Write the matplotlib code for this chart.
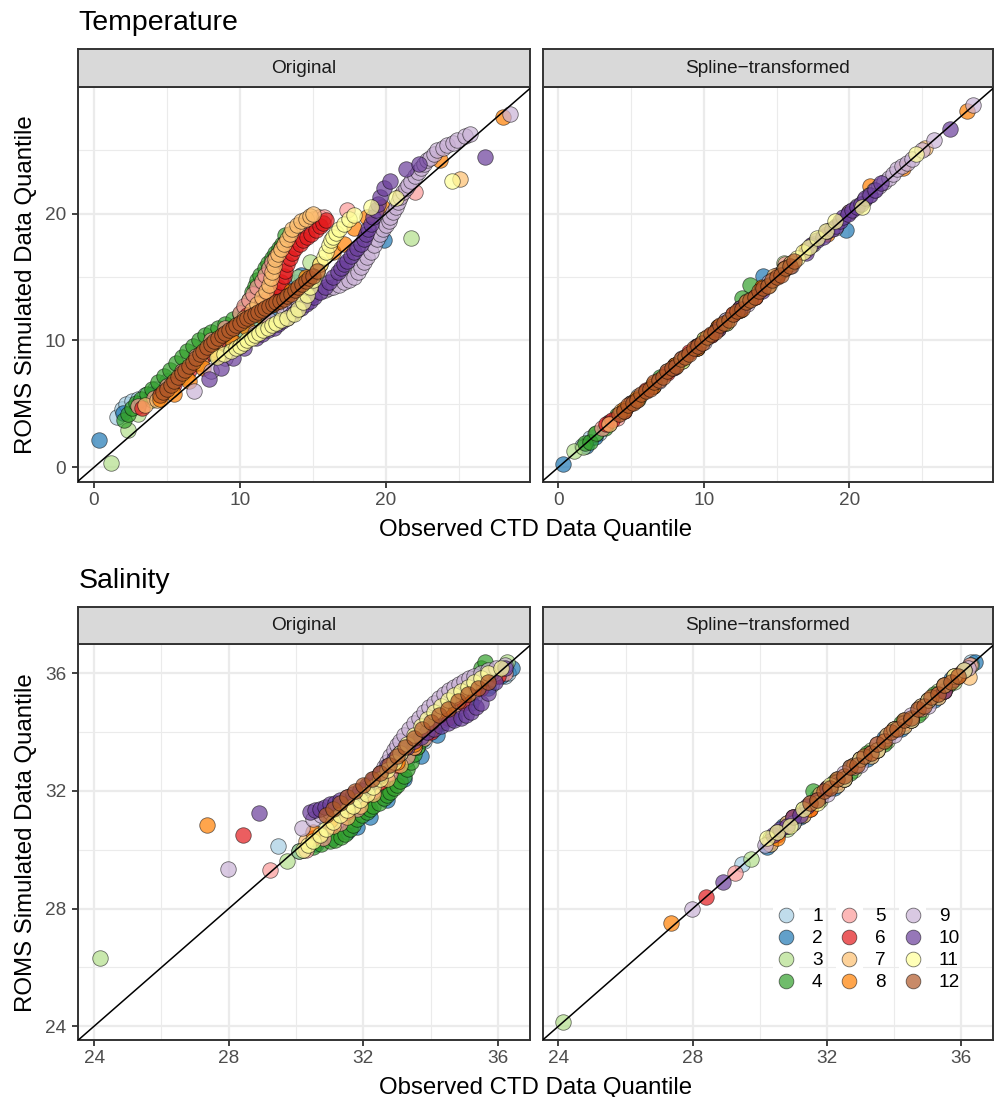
import matplotlib
matplotlib.use("Agg")
import matplotlib.pyplot as plt
from matplotlib.colors import to_rgba
from matplotlib.lines import Line2D
from matplotlib.patches import Rectangle
from matplotlib.legend_handler import HandlerBase

plt.rcParams["font.family"] = ["Liberation Sans", "DejaVu Sans"]

months = [str(m) for m in range(1, 13)]
month_colors = ["#A6CEE3", "#1F78B4", "#B2DF8A", "#33A02C", "#FB9A99", "#E31A1C",
                "#FDBF6F", "#FF7F00", "#CAB2D6", "#6A3D9A", "#FFFF99", "#B15928"]
facet_names = ["Original", "Spline\u2212transformed"]

# Temperature, original quantiles: (observed, simulated)
t_orig_01 = [(1.6, 4.0), (1.9, 4.6), (2.2, 5.0), (2.6, 5.2), (3.0, 5.4), (3.5, 5.7), (4.2, 6.2), (5.0, 6.8),
             (6.0, 7.6), (7.0, 8.5), (8.0, 9.3), (9.0, 10.0), (10.0, 10.7), (11.0, 11.3)]
t_orig_02 = [(0.34, 2.16), (2.0, 4.3), (3.0, 5.0), (4.0, 5.8), (5.0, 6.5), (6.0, 7.3), (7.0, 8.2), (8.0, 9.0),
             (9.0, 9.8), (10.0, 10.6), (11.0, 11.4), (12.0, 12.4), (13.0, 13.6), (13.8, 14.6), (14.2, 15.2),
             (19.9, 17.9)]
t_orig_03 = [(1.14, 0.32), (2.3, 2.9), (3.0, 4.2), (4.0, 5.3), (5.0, 6.3), (6.0, 7.2), (7.0, 8.2), (8.0, 9.1),
             (9.0, 10.0), (10.0, 10.9), (11.0, 11.8), (12.0, 12.8), (13.0, 13.9), (14.0, 15.0), (14.8, 16.2),
             (21.7, 18.1)]
t_orig_04 = [(2.05, 3.7), (2.3, 4.2), (2.6, 4.7), (2.9, 5.1), (3.2, 5.4), (3.6, 5.8), (4.0, 6.2), (4.4, 6.7),
             (4.8, 7.2), (5.2, 7.7), (5.6, 8.2), (6.0, 8.7), (6.4, 9.2), (6.8, 9.6), (7.2, 10.0), (7.6, 10.4),
             (8.0, 10.7), (8.5, 11.0), (9.0, 11.3), (9.5, 11.7), (10.0, 12.1), (10.3, 12.6), (10.6, 13.2),
             (10.8, 13.8), (11.0, 14.3), (11.2, 14.8), (11.4, 15.2), (11.7, 15.7), (11.9, 16.1), (12.2, 16.5),
             (12.4, 16.9), (12.7, 17.3), (12.9, 17.6), (13.1, 18.3)]
t_orig_05 = [(3.0, 4.8), (4.1, 5.5), (5.0, 6.4), (6.0, 7.6), (7.0, 8.8), (8.0, 10.0), (9.0, 11.0), (10.0, 12.2),
             (10.3, 12.7), (10.6, 13.2), (10.9, 13.7), (11.2, 14.2), (11.5, 14.7), (11.7, 15.2), (12.0, 15.7),
             (12.2, 16.2), (12.5, 16.7), (12.8, 17.2), (13.1, 17.7), (13.5, 18.2), (13.9, 18.7), (14.3, 19.1),
             (14.7, 19.4), (15.0, 19.6), (15.4, 19.7), (15.75, 19.7), (17.35, 20.3), (22.0, 21.7)]
t_orig_06 = [(3.3, 4.7), (4.5, 5.6), (5.5, 6.6), (6.5, 7.7), (7.5, 8.8), (8.5, 9.9), (9.5, 11.0), (10.5, 12.0),
             (11.5, 13.0), (12.0, 13.5), (12.3, 13.8), (12.6, 14.2), (12.8, 14.6), (13.0, 15.1), (13.1, 15.5),
             (13.25, 16.0), (13.4, 16.5), (13.6, 16.9), (13.8, 17.3), (14.1, 17.6), (14.3, 17.9), (14.6, 18.2),
             (14.9, 18.4), (15.2, 18.7), (15.5, 19.0), (15.7, 19.3), (15.9, 19.5)]
t_orig_07 = [(3.5, 4.9), (4.3, 5.3), (5.3, 6.1), (6.3, 7.1), (7.3, 8.2), (8.3, 9.3), (9.3, 10.5), (10.3, 11.8),
             (10.8, 12.4), (11.2, 12.9), (11.5, 13.4), (11.8, 13.9), (12.0, 14.4), (12.1, 14.9), (12.2, 15.4),
             (12.3, 15.9), (12.4, 16.4), (12.6, 16.8), (12.8, 17.2), (13.0, 17.6), (13.2, 18.0), (13.4, 18.4),
             (13.6, 18.8), (13.9, 19.1), (14.2, 19.4), (14.5, 19.6), (14.8, 19.8), (15.0, 20.0), (25.1, 22.7)]
t_orig_08 = [(4.5, 5.4), (5.5, 5.8), (6.5, 6.8), (7.5, 7.8), (8.5, 8.8), (9.5, 9.9), (10.5, 11.0), (11.5, 11.9),
             (12.5, 12.9), (13.5, 13.9), (14.5, 15.0), (15.5, 16.0), (16.4, 17.0), (17.1, 17.6), (17.8, 18.9),
             (18.7, 19.7), (19.75, 20.5), (21.0, 21.4), (23.7, 24.2), (28.0, 27.6)]
t_orig_09 = [(6.85, 6.05), (8.0, 7.6), (9.0, 8.6), (10.0, 9.6), (11.0, 10.6), (12.0, 11.6), (13.0, 12.5),
             (13.4, 12.7), (13.7, 12.9), (14.0, 13.1), (14.4, 13.3), (14.8, 13.5), (15.1, 13.7), (15.5, 13.9),
             (15.8, 14.0), (16.1, 14.1), (16.4, 14.2), (16.8, 14.4), (17.1, 14.6), (17.5, 14.8), (17.8, 15.0),
             (18.1, 15.4), (18.3, 15.8), (18.5, 16.2), (18.7, 16.6), (19.0, 17.0), (19.2, 17.5), (19.4, 18.0),
             (19.6, 18.4), (19.8, 18.8), (20.0, 19.1), (20.2, 19.4), (20.3, 19.7), (20.5, 20.1), (20.7, 20.5),
             (20.85, 20.9), (21.0, 21.3), (21.2, 21.7), (21.4, 22.0), (21.55, 22.3), (21.7, 22.6), (22.0, 23.0),
             (22.2, 23.3), (22.4, 23.6), (22.6, 23.9), (22.8, 24.2), (23.0, 24.4), (23.3, 24.7), (23.5, 25.0),
             (23.9, 25.2), (24.2, 25.4), (24.6, 25.6), (24.9, 25.8), (25.4, 26.1), (25.8, 26.3), (28.5, 27.9)]
t_orig_10 = [(7.9, 7.0), (8.7, 7.8), (9.5, 8.6), (10.3, 9.4), (11.1, 10.2), (11.5, 10.5), (11.9, 10.8),
             (12.3, 11.0), (12.6, 11.3), (12.9, 11.5), (13.2, 11.8), (13.6, 12.1), (13.9, 12.4), (14.2, 12.6),
             (14.5, 12.9), (14.8, 13.1), (15.1, 13.4), (15.5, 13.8), (15.8, 14.2), (16.1, 14.6), (16.4, 15.0),
             (16.7, 15.4), (16.9, 15.7), (17.1, 16.0), (17.35, 16.3), (17.6, 16.7), (17.8, 17.0), (18.0, 17.3),
             (18.3, 17.6), (18.5, 18.0), (18.65, 18.4), (18.8, 18.8), (18.95, 19.2), (19.1, 19.7), (19.3, 20.3),
             (19.45, 20.8), (19.6, 21.3), (19.9, 22.0), (20.3, 22.6), (21.35, 23.55), (22.26, 23.95),
             (26.8, 24.5)]
t_orig_11 = [(8.45, 8.7), (8.9, 8.9), (9.4, 9.2), (9.7, 9.4), (10.0, 9.6), (10.3, 9.8), (10.5, 10.0),
             (10.8, 10.2), (11.0, 10.4), (11.3, 10.6), (11.6, 10.8), (11.9, 11.0), (12.2, 11.2), (12.5, 11.4),
             (12.8, 11.6), (13.2, 11.8), (13.7, 12.1), (14.0, 12.5), (14.3, 13.0), (14.6, 13.6), (14.8, 14.2),
             (15.0, 14.8), (15.3, 15.4), (15.5, 16.0), (15.75, 16.6), (15.9, 17.0), (16.1, 17.5), (16.25, 17.9),
             (16.4, 18.2), (16.6, 18.5), (16.8, 18.8), (17.1, 19.2), (17.5, 19.6), (17.8, 19.9), (18.95, 20.5),
             (20.7, 21.2), (24.5, 22.6)]
t_orig_12 = [(4.5, 5.7), (4.75, 5.95), (5.0, 6.2), (5.25, 6.5), (5.5, 6.8), (5.75, 7.1), (6.0, 7.4),
             (6.25, 7.7), (6.5, 8.0), (6.75, 8.3), (7.0, 8.6), (7.25, 8.9), (7.5, 9.2), (7.75, 9.45), (8.0, 9.7),
             (8.25, 9.95), (8.5, 10.2), (8.75, 10.4), (9.0, 10.6), (9.25, 10.8), (9.5, 11.0), (9.75, 11.2),
             (10.0, 11.4), (10.25, 11.6), (10.5, 11.8), (10.75, 11.95), (11.0, 12.1), (11.25, 12.25),
             (11.5, 12.4), (11.75, 12.55), (12.0, 12.7), (12.25, 12.85), (12.5, 13.0), (12.75, 13.15),
             (13.0, 13.3), (13.25, 13.5), (13.5, 13.7), (13.75, 13.95), (14.0, 14.2), (14.25, 14.45),
             (14.5, 14.7), (14.75, 14.9), (15.0, 15.1), (15.3, 15.5)]

# Temperature, spline-transformed quantiles
t_spl_01 = [(1.6, 1.7), (2.2, 2.3), (2.8, 2.7), (3.5, 3.6), (4.5, 4.4), (5.5, 5.6), (6.5, 6.4), (7.5, 7.6),
            (8.5, 8.5), (9.5, 9.6), (10.5, 10.4), (11.5, 11.6)]
t_spl_02 = [(0.3, 0.24), (1.9, 1.7), (2.5, 2.4), (3.5, 3.5), (5.0, 5.1), (6.5, 6.4), (8.0, 8.1), (9.5, 9.4),
            (11.0, 11.1), (12.5, 12.4), (14.1, 15.1), (19.75, 18.72)]
t_spl_03 = [(1.1, 1.28), (1.7, 1.6), (2.5, 2.6), (3.5, 3.4), (5.0, 5.1), (6.5, 6.4), (8.0, 8.1), (9.5, 9.4),
            (11.0, 11.1), (12.5, 12.6), (13.5, 13.4), (15.5, 16.1)]
t_spl_04 = [(1.8, 1.9), (2.2, 2.0), (2.6, 2.7), (3.2, 3.1), (4.0, 4.1), (5.5, 5.4), (7.0, 7.1), (8.5, 8.4),
            (10.0, 10.1), (11.5, 11.4), (12.6, 13.35), (13.2, 14.35)]
t_spl_05 = [(3.0, 3.1), (4.0, 3.9), (5.0, 5.1), (6.5, 6.4), (8.0, 8.1), (9.5, 9.4), (11.0, 11.1), (12.5, 12.4),
            (14.0, 14.1), (15.0, 15.2), (15.6, 16.0)]
t_spl_06 = [(3.28, 3.39), (3.7, 3.7), (4.5, 4.4), (6.0, 6.1), (7.5, 7.4), (9.0, 9.1), (10.5, 10.4), (12.0, 12.1),
            (13.5, 13.4), (15.0, 15.1), (15.9, 16.0)]
t_spl_07 = [(3.5, 3.4), (4.3, 4.4), (5.3, 5.2), (6.5, 6.6), (8.0, 7.9), (9.5, 9.6), (11.0, 10.9), (12.5, 12.6),
            (14.0, 14.1), (14.8, 15.1), (25.2, 25.2)]
t_spl_08 = [(4.5, 4.6), (5.4, 5.5), (6.5, 6.4), (8.0, 8.1), (9.5, 9.4), (11.0, 11.1), (12.5, 12.4), (14.0, 14.2),
            (15.5, 15.6), (17.0, 17.1), (18.5, 18.4), (20.0, 20.1), (21.4, 22.2), (23.7, 23.6), (28.06, 28.09)]
t_spl_09 = [(6.9, 6.8), (8.5, 8.6), (10.0, 9.9), (11.5, 11.6), (13.0, 12.9), (14.5, 14.6), (16.0, 15.9),
            (17.5, 17.6), (19.0, 18.9), (20.0, 20.1), (20.5, 20.6), (21.0, 21.1), (21.35, 21.5), (21.7, 21.9),
            (22.05, 22.2), (22.4, 22.5), (22.7, 22.8), (23.0, 23.1), (23.3, 23.5), (23.6, 23.8), (24.0, 24.0),
            (24.3, 24.3), (25.0, 25.0), (25.8, 25.8), (28.5, 28.6)]
t_spl_10 = [(7.9, 7.8), (9.5, 9.6), (11.0, 10.9), (12.5, 12.6), (14.0, 13.9), (15.5, 15.6), (17.0, 16.9),
            (17.4, 17.5), (17.8, 17.9), (18.2, 18.2), (18.5, 18.6), (18.8, 18.8), (19.1, 19.0), (19.35, 19.4),
            (19.6, 19.7), (19.9, 20.0), (20.2, 20.3), (20.5, 20.5), (20.8, 20.8), (21.1, 21.2), (21.4, 21.5),
            (21.8, 21.9), (22.2, 22.4), (26.9, 26.7)]
t_spl_11 = [(8.5, 8.4), (10.0, 10.1), (11.5, 11.4), (13.0, 13.1), (14.5, 14.4), (15.5, 15.6), (16.0, 16.1),
            (16.4, 16.5), (16.8, 17.0), (17.2, 17.4), (17.75, 18.1), (18.4, 18.6), (19.0, 19.46), (20.9, 20.5),
            (24.6, 24.7)]
t_spl_12 = [(4.2, 4.2), (4.5, 4.4), (4.8, 4.9), (5.1, 5.1), (5.4, 5.3), (5.7, 5.8), (6.0, 6.0), (6.3, 6.2),
            (6.6, 6.7), (6.9, 6.9), (7.2, 7.1), (7.5, 7.6), (7.8, 7.8), (8.1, 8.0), (8.4, 8.5), (8.7, 8.7),
            (9.0, 8.9), (9.3, 9.4), (9.6, 9.6), (9.9, 9.8), (10.2, 10.3), (10.5, 10.5), (10.8, 10.7),
            (11.1, 11.2), (11.4, 11.4), (11.7, 11.6), (12.0, 12.1), (12.3, 12.3), (12.6, 12.5), (12.9, 13.0),
            (13.2, 13.2), (13.5, 13.4), (13.8, 13.9), (14.1, 14.1), (14.4, 14.3), (14.7, 14.8), (15.0, 15.0),
            (15.3, 15.2), (15.6, 15.7), (15.9, 15.9), (16.2, 16.3)]

# Salinity, original quantiles
s_orig_01 = [(29.45, 30.14), (30.2, 30.0), (30.6, 30.3), (31.2, 30.7), (31.8, 31.3), (32.3, 31.9), (32.8, 32.5),
             (33.3, 33.1), (33.8, 33.7), (34.3, 34.3), (34.8, 34.8), (35.3, 35.2), (35.8, 35.6), (36.2, 35.9),
             (36.3, 36.0)]
s_orig_02 = [(30.1, 29.95), (30.6, 30.2), (31.1, 30.4), (31.5, 30.6), (31.8, 30.77), (32.2, 31.1), (32.7, 31.7),
             (33.2, 32.4), (33.7, 33.2), (34.2, 33.9), (34.7, 34.5), (35.2, 35.0), (35.7, 35.5), (36.1, 35.9),
             (36.43, 36.2)]
s_orig_03 = [(24.17, 26.32), (29.74, 29.63), (30.1, 29.95), (30.6, 30.3), (31.1, 30.6), (31.6, 31.0),
             (32.1, 31.5), (32.6, 32.1), (33.1, 32.8), (33.6, 33.5), (34.1, 34.2), (34.6, 34.8), (35.1, 35.3),
             (35.6, 35.8), (36.27, 36.39)]
s_orig_04 = [(30.5, 30.1), (30.75, 30.2), (31.0, 30.3), (31.15, 30.35), (31.32, 30.43), (31.45, 30.55),
             (31.6, 30.7), (31.7, 30.85), (31.8, 31.05), (31.95, 31.2), (32.1, 31.3), (32.2, 31.4), (32.3, 31.5),
             (32.45, 31.6), (32.6, 31.75), (32.7, 31.85), (32.8, 31.97), (32.9, 32.1), (33.0, 32.2),
             (33.1, 32.35), (33.2, 32.5), (33.3, 32.75), (33.4, 33.0), (33.5, 33.25), (33.6, 33.5),
             (33.75, 33.75), (33.9, 34.0), (34.1, 34.25), (34.3, 34.5), (34.5, 34.75), (34.7, 35.0),
             (34.9, 35.25), (35.1, 35.5), (35.3, 35.85), (35.5, 36.2), (35.6, 36.4)]
s_orig_05 = [(29.24, 29.32), (30.3, 30.0), (30.8, 30.4), (31.3, 30.9), (31.8, 31.4), (32.3, 32.0), (32.8, 32.6),
             (33.3, 33.2), (33.8, 33.8), (34.3, 34.4), (34.8, 34.9), (35.3, 35.4), (35.8, 35.8), (36.2, 36.0)]
s_orig_06 = [(28.41, 30.49), (30.5, 30.4), (31.0, 30.8), (31.5, 31.3), (32.0, 31.8), (32.5, 32.3), (33.0, 32.9),
             (33.5, 33.5), (34.0, 34.0), (34.5, 34.5), (35.0, 35.0), (35.5, 35.5), (36.0, 35.9)]
s_orig_07 = [(30.3, 30.3), (30.7, 30.55), (31.1, 30.8), (31.5, 31.1), (31.9, 31.5), (32.3, 31.9), (32.7, 32.4),
             (33.1, 32.9), (33.5, 33.5), (33.9, 34.1), (34.3, 34.7), (34.7, 35.2), (35.1, 35.5), (35.5, 35.8),
             (35.9, 36.0)]
s_orig_08 = [(27.36, 30.86), (30.5, 30.6), (31.0, 31.0), (31.5, 31.5), (32.0, 32.0), (32.5, 32.5), (33.0, 33.0),
             (33.5, 33.6), (34.0, 34.1), (34.5, 34.7), (35.0, 35.3), (35.4, 35.7), (35.8, 36.0)]
s_orig_09 = [(27.97, 29.34), (30.18, 30.75), (30.5, 31.06), (30.75, 31.2), (31.0, 31.3), (31.25, 31.45),
             (31.5, 31.6), (31.75, 31.8), (32.0, 32.0), (32.15, 32.15), (32.3, 32.35), (32.45, 32.55),
             (32.6, 32.8), (32.7, 33.0), (32.8, 33.2), (32.9, 33.4), (33.0, 33.55), (33.1, 33.7), (33.2, 33.9),
             (33.35, 34.1), (33.5, 34.3), (33.65, 34.5), (33.8, 34.7), (33.95, 34.85), (34.1, 35.0),
             (34.25, 35.15), (34.4, 35.3), (34.55, 35.45), (34.7, 35.55), (34.85, 35.65), (35.0, 35.75),
             (35.15, 35.85), (35.3, 35.9), (35.5, 36.0), (35.7, 36.1), (35.95, 36.2), (36.2, 36.3)]
s_orig_10 = [(28.9, 31.25), (30.4, 31.3), (30.55, 31.35), (30.7, 31.4), (30.85, 31.45), (31.0, 31.55),
             (31.15, 31.6), (31.3, 31.7), (31.5, 31.8), (31.7, 31.9), (31.9, 32.05), (32.1, 32.2), (32.3, 32.4),
             (32.5, 32.6), (32.7, 32.85), (32.9, 33.1), (33.1, 33.3), (33.3, 33.5), (33.5, 33.7), (33.7, 33.85),
             (33.9, 34.0), (34.1, 34.1), (34.3, 34.2), (34.5, 34.3), (34.7, 34.4), (34.9, 34.5), (35.05, 34.6),
             (35.2, 34.7), (35.35, 34.85), (35.5, 35.0), (35.7, 35.35), (35.9, 35.7), (36.2, 36.2)]
s_orig_11 = [(30.2, 30.0), (30.35, 30.15), (30.5, 30.3), (30.7, 30.5), (30.9, 30.7), (31.1, 30.95),
             (31.3, 31.17), (31.5, 31.35), (31.7, 31.5), (31.9, 31.7), (32.1, 31.9), (32.3, 32.15), (32.5, 32.4),
             (32.7, 32.7), (32.9, 33.0), (33.1, 33.3), (33.3, 33.6), (33.5, 33.9), (33.7, 34.2), (33.9, 34.45),
             (34.1, 34.7), (34.3, 34.9), (34.5, 35.1), (34.7, 35.25), (34.9, 35.4), (35.1, 35.55), (35.3, 35.7),
             (35.5, 35.85), (35.7, 36.0), (36.1, 36.2)]
s_orig_12 = [(30.9, 31.2), (31.1, 31.4), (31.3, 31.6), (31.5, 31.8), (31.75, 32.0), (32.0, 32.2), (32.25, 32.4),
             (32.5, 32.6), (32.75, 32.9), (33.0, 33.2), (33.25, 33.5), (33.5, 33.8), (33.75, 34.1), (34.0, 34.35),
             (34.25, 34.6), (34.5, 34.8), (34.8, 35.05), (35.1, 35.3), (35.4, 35.5), (35.7, 35.7)]

# Salinity, spline-transformed quantiles
s_spl_01 = [(29.48, 29.51), (30.3, 30.2), (30.8, 30.9), (31.3, 31.2), (31.8, 31.9), (32.3, 32.2), (32.8, 32.9),
            (33.3, 33.2), (33.8, 33.9), (34.3, 34.2), (34.8, 34.9), (35.3, 35.2), (35.8, 35.9), (36.3, 36.4)]
s_spl_02 = [(30.2, 30.1), (30.7, 30.8), (31.2, 31.1), (31.7, 31.8), (32.2, 32.1), (32.7, 32.8), (33.2, 33.1),
            (33.7, 33.8), (34.2, 34.1), (34.7, 34.8), (35.2, 35.1), (35.7, 35.8), (36.4, 36.4)]
s_spl_03 = [(24.13, 24.15), (29.75, 29.68), (30.3, 30.4), (30.8, 30.7), (31.3, 31.4), (31.8, 31.7), (32.3, 32.4),
            (32.8, 32.7), (33.3, 33.4), (33.8, 33.7), (34.3, 34.4), (34.8, 34.7), (35.3, 35.4), (35.8, 35.7),
            (36.3, 36.3)]
s_spl_04 = [(30.5, 30.6), (31.0, 30.9), (31.59, 32.0), (31.8, 31.8), (32.2, 32.3), (32.7, 32.6), (33.2, 33.3),
            (33.7, 33.6), (34.2, 34.3), (34.7, 34.6), (35.2, 35.3), (35.6, 35.6)]
s_spl_05 = [(29.26, 29.22), (30.3, 30.3), (30.8, 30.8), (31.3, 31.3), (31.8, 31.8), (32.3, 32.3), (32.8, 32.8),
            (33.3, 33.3), (33.8, 33.8), (34.3, 34.3), (34.8, 34.8), (35.3, 35.3), (35.8, 35.8), (36.25, 36.3)]
s_spl_06 = [(28.41, 28.4), (30.5, 30.5), (31.0, 31.1), (31.5, 31.4), (32.0, 32.1), (32.5, 32.4), (33.0, 33.1),
            (33.5, 33.4), (34.0, 34.1), (34.5, 34.4), (35.0, 35.1), (35.5, 35.4), (36.0, 36.0)]
s_spl_07 = [(30.3, 30.2), (30.8, 30.9), (31.3, 31.2), (31.8, 31.9), (32.3, 32.2), (32.8, 32.9), (33.3, 33.2),
            (33.8, 33.9), (34.3, 34.2), (34.8, 34.9), (35.3, 35.2), (35.8, 35.9), (36.22, 35.89)]
s_spl_08 = [(27.35, 27.5), (30.5, 30.4), (31.0, 31.1), (31.5, 31.4), (32.0, 32.1), (32.5, 32.4), (33.0, 33.1),
            (33.5, 33.4), (34.0, 34.1), (34.5, 34.4), (35.0, 35.1), (35.5, 35.4), (35.9, 35.9)]
s_spl_09 = [(27.97, 27.97), (30.15, 30.15), (30.5, 30.6), (31.0, 30.9), (31.5, 31.6), (32.0, 31.9), (32.5, 32.6),
            (33.0, 32.9), (33.5, 33.6), (34.0, 33.9), (34.5, 34.6), (35.0, 34.9), (35.5, 35.6), (36.2, 36.2)]
s_spl_10 = [(28.91, 28.92), (30.4, 30.5), (30.6, 30.7), (30.8, 30.8), (31.0, 31.1), (31.2, 31.2), (31.4, 31.5),
            (31.7, 31.7), (32.0, 32.1), (32.5, 32.4), (33.0, 33.1), (33.5, 33.4), (34.0, 34.1), (34.5, 34.4),
            (35.0, 35.1), (35.5, 35.4), (36.1, 36.1)]
s_spl_11 = [(30.2, 30.4), (30.5, 30.6), (30.9, 30.8), (31.3, 31.4), (31.7, 31.6), (32.1, 32.2), (32.5, 32.4),
            (33.0, 33.1), (33.5, 33.4), (34.0, 34.1), (34.5, 34.4), (35.0, 35.1), (35.5, 35.6), (35.8, 35.9),
            (36.1, 36.1)]
s_spl_12 = [(31.5, 31.6), (31.7, 31.7), (31.9, 32.0), (32.1, 32.1), (32.3, 32.4), (32.5, 32.5), (32.7, 32.8),
            (32.9, 32.9), (33.1, 33.2), (33.3, 33.3), (33.5, 33.6), (33.7, 33.7), (33.9, 34.0), (34.1, 34.1),
            (34.3, 34.4), (34.5, 34.5), (34.7, 34.8), (34.9, 34.9), (35.1, 35.2), (35.3, 35.3), (35.5, 35.6),
            (35.7, 35.7), (35.9, 35.9)]

temp_orig = [t_orig_01, t_orig_02, t_orig_03, t_orig_04, t_orig_05, t_orig_06,
             t_orig_07, t_orig_08, t_orig_09, t_orig_10, t_orig_11, t_orig_12]
temp_spl = [t_spl_01, t_spl_02, t_spl_03, t_spl_04, t_spl_05, t_spl_06,
            t_spl_07, t_spl_08, t_spl_09, t_spl_10, t_spl_11, t_spl_12]
sal_orig = [s_orig_01, s_orig_02, s_orig_03, s_orig_04, s_orig_05, s_orig_06,
            s_orig_07, s_orig_08, s_orig_09, s_orig_10, s_orig_11, s_orig_12]
sal_spl = [s_spl_01, s_spl_02, s_spl_03, s_spl_04, s_spl_05, s_spl_06,
           s_spl_07, s_spl_08, s_spl_09, s_spl_10, s_spl_11, s_spl_12]

W, H = 994, 1097
fig = plt.figure(figsize=(W / 100, H / 100), dpi=100)

POINT_EDGE = (0, 0, 0, 0.55)


def px_box(x0, y0, x1, y1):
    # pixel box (top-left origin) -> figure fraction rect
    return [x0 / W, 1 - y1 / H, (x1 - x0) / W, (y1 - y0) / H]


class KeyHandler(HandlerBase):
    # ggplot style key: white square behind the point
    def create_artists(self, legend, orig_handle, xdescent, ydescent, width, height, fontsize, trans):
        box = Rectangle((-xdescent, -ydescent), width, height, facecolor="white",
                        edgecolor="none", transform=trans)
        dot = Line2D([width / 2 - xdescent], [height / 2 - ydescent], marker="o", linestyle="none",
                     markersize=orig_handle.get_markersize(),
                     markerfacecolor=orig_handle.get_markerfacecolor(),
                     markeredgecolor=orig_handle.get_markeredgecolor(),
                     markeredgewidth=orig_handle.get_markeredgewidth(), transform=trans)
        return [box, dot]


def draw_panel(box, strip_box, series, lims, major, minor, name, show_y):
    ax = fig.add_axes(px_box(*box))
    ax.set_xlim(lims[0])
    ax.set_ylim(lims[1])
    ax.set_xticks(major)
    ax.set_yticks(major)
    ax.set_xticks(minor, minor=True)
    ax.set_yticks(minor, minor=True)
    ax.grid(which="major", color="#EBEBEB", linewidth=1.6)
    ax.grid(which="minor", color="#EBEBEB", linewidth=0.8)
    ax.set_axisbelow(True)
    for sp in ax.spines.values():
        sp.set_color("#333333")
        sp.set_linewidth(1.4)
    ax.tick_params(which="minor", length=0)
    ax.tick_params(which="major", length=4.2, width=1.3, color="#333333",
                   labelcolor="#4D4D4D", labelsize=13.7)
    ax.tick_params(axis="x", pad=3)
    ax.tick_params(axis="y", pad=4.5)
    if not show_y:
        ax.tick_params(axis="y", left=False, labelleft=False)

    for pts, col in zip(series, month_colors):
        xs = [p[0] for p in pts]
        ys = [p[1] for p in pts]
        ax.scatter(xs, ys, s=125, c=[to_rgba(col, 0.7)], edgecolors=[POINT_EDGE],
                   linewidths=0.6, zorder=2)
    ax.axline((lims[0][0], lims[0][0]), slope=1, color="black", linewidth=1.1, zorder=3)

    sax = fig.add_axes(px_box(*strip_box))
    sax.set_facecolor("#D9D9D9")
    sax.set_xticks([])
    sax.set_yticks([])
    for sp in sax.spines.values():
        sp.set_color("#333333")
        sp.set_linewidth(1.4)
    sax.text(0.5, 0.5, name, ha="center", va="center", fontsize=13.7, color="#1A1A1A",
             transform=sax.transAxes)
    return ax


LX0, LX1 = 78.3, 530.0
RX0, RX1 = 542.7, 993.0

temp_lims = ((-1.08, 29.88), (-1.14, 29.97))
sal_lims = ((23.53, 36.95), (23.53, 36.99))

# Temperature row
draw_panel((LX0, 87.3, LX1, 481.7), (LX0, 49.3, LX1, 87.3), temp_orig, temp_lims,
           [0, 10, 20], [5, 15, 25], facet_names[0], True)
draw_panel((RX0, 87.3, RX1, 481.7), (RX0, 49.3, RX1, 87.3), temp_spl, temp_lims,
           [0, 10, 20], [5, 15, 25], facet_names[1], False)

# Salinity row
draw_panel((LX0, 644.3, LX1, 1040.0), (LX0, 606.7, LX1, 644.3), sal_orig, sal_lims,
           [24, 28, 32, 36], [26, 30, 34], facet_names[0], True)
ax_sr = draw_panel((RX0, 644.3, RX1, 1040.0), (RX0, 606.7, RX1, 644.3), sal_spl, sal_lims,
                   [24, 28, 32, 36], [26, 30, 34], facet_names[1], False)

handles = [Line2D([], [], marker="o", linestyle="none", markersize=10.6,
                  markerfacecolor=to_rgba(c, 0.7), markeredgecolor=POINT_EDGE,
                  markeredgewidth=0.6) for c in month_colors]
ax_sr.legend(handles, months, handler_map={Line2D: KeyHandler()}, ncol=3, frameon=False,
             fontsize=13.7, handlelength=1.40, handleheight=1.40, labelspacing=0.0,
             handletextpad=0.67, columnspacing=0.70, borderpad=0, borderaxespad=0,
             loc="upper left", bbox_to_anchor=(772.65 / W, 1 - 903.95 / H),
             bbox_transform=fig.transFigure)

# titles and shared axis labels
fig.text(LX0 / W, 1 - 30 / H, "Temperature", fontsize=20.5, ha="left", va="baseline")
fig.text(LX0 / W, 1 - 588 / H, "Salinity", fontsize=20.5, ha="left", va="baseline")
mid_x = (LX0 + RX1) / 2 / W
fig.text(mid_x, 1 - 536 / H, "Observed CTD Data Quantile", fontsize=17.3, ha="center", va="baseline")
fig.text(mid_x, 1 - 1094 / H, "Observed CTD Data Quantile", fontsize=17.3, ha="center", va="baseline")
fig.text(26 / W, 1 - 284.5 / H, "ROMS Simulated Data Quantile", fontsize=17.3, rotation=90,
         ha="center", va="center")
fig.text(26 / W, 1 - 842.2 / H, "ROMS Simulated Data Quantile", fontsize=17.3, rotation=90,
         ha="center", va="center")

fig.savefig("out.png", dpi=100)
plt.close(fig)
